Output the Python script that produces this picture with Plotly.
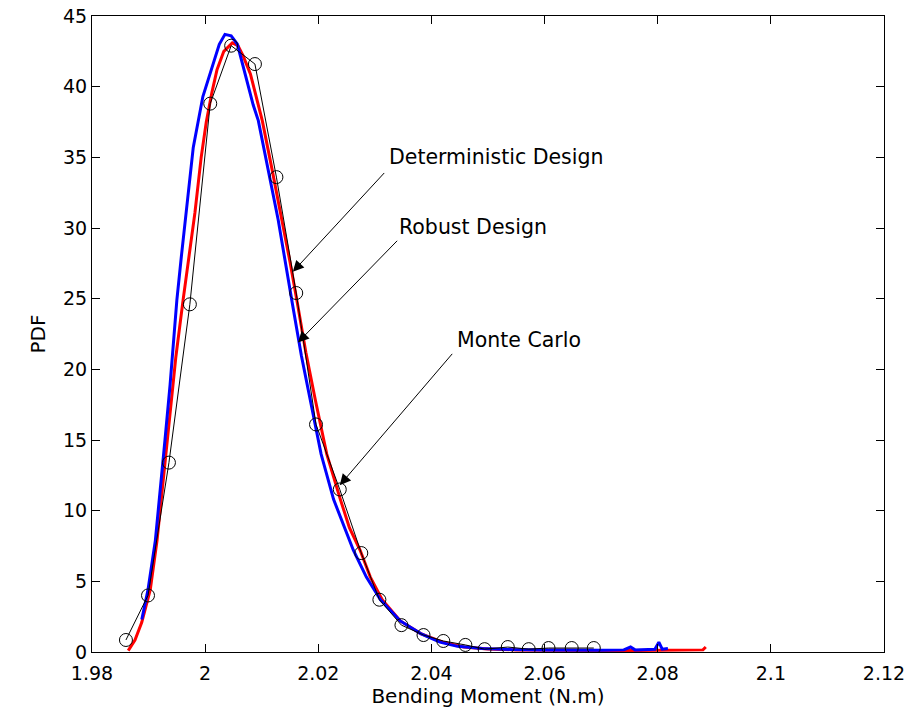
import plotly.graph_objects as go

# Deterministic design PDF (red)
det_x = [1.9864, 1.9876, 1.9888, 1.9903, 1.9915, 1.9926, 1.9936, 1.9948, 1.9961, 1.9972,
         1.9982, 1.9993, 2.0002, 2.0012, 2.0021, 2.0033, 2.0048, 2.0058, 2.0067, 2.0080,
         2.0092, 2.0101, 2.0118, 2.0136, 2.0150, 2.0163, 2.0178, 2.0195, 2.0215, 2.0239,
         2.0255, 2.0274, 2.0292, 2.0313, 2.0345, 2.0381, 2.0420, 2.0457, 2.0500, 2.0550,
         2.0600, 2.0650, 2.0700, 2.0750, 2.0800, 2.0850, 2.0880, 2.0885]
det_y = [0.1, 0.85, 2.1, 4.4, 7.9, 12.2, 16.4, 20.8, 24.9, 28.3,
         31.1, 35.0, 37.5, 39.6, 41.2, 42.5, 43.1, 42.9, 42.2, 40.9,
         39.0, 37.6, 34.2, 30.6, 27.6, 24.7, 21.2, 17.8, 14.0, 10.8,
         8.8, 7.2, 5.3, 3.7, 2.2, 1.3, 0.7, 0.35, 0.22, 0.15,
         0.12, 0.1, 0.1, 0.1, 0.1, 0.1, 0.15, 0.35]

# Robust design PDF (blue)
rob_x = [1.9888, 1.9899, 1.9912, 1.9920, 1.9929, 1.9938, 1.9950, 1.9958, 1.9966, 1.9979,
         1.9996, 2.0014, 2.0025, 2.0035, 2.0046, 2.0057, 2.0071, 2.0085, 2.0094, 2.0112,
         2.0129, 2.0154, 2.0170, 2.0186, 2.0205, 2.0227, 2.0245, 2.0262, 2.0285, 2.0310,
         2.0345, 2.0381, 2.0415, 2.0446, 2.0490, 2.0540, 2.0600, 2.0650, 2.0700, 2.0740,
         2.0752, 2.0760, 2.0795, 2.0802, 2.0808, 2.0818]
rob_y = [2.3, 4.4, 7.9, 11.5, 15.0, 18.9, 24.9, 28.0, 31.1, 35.7,
         39.3, 41.5, 43.0, 43.7, 43.6, 43.0, 40.8, 38.7, 37.6, 34.0,
         30.6, 24.7, 21.0, 17.8, 14.0, 10.8, 8.9, 7.2, 5.3, 3.7,
         2.2, 1.3, 0.7, 0.4, 0.25, 0.18, 0.15, 0.12, 0.12, 0.15,
         0.35, 0.15, 0.2, 0.7, 0.2, 0.25]

# Monte Carlo histogram points (black circles)
mc_x = [1.9860, 1.9899, 1.9936, 1.9973, 2.0009, 2.0046, 2.0088, 2.0126, 2.0161, 2.0196,
        2.0238, 2.0276, 2.0308, 2.0347, 2.0386, 2.0421, 2.0460, 2.0494, 2.0535, 2.0572,
        2.0607, 2.0648, 2.0687]
mc_y = [0.85, 4.0, 13.4, 24.6, 38.8, 42.9, 41.6, 33.6, 25.4, 16.1,
        11.5, 7.0, 3.7, 1.9, 1.2, 0.78, 0.5, 0.2, 0.35, 0.2,
        0.28, 0.28, 0.28]

x_ticks = [1.98, 2.00, 2.02, 2.04, 2.06, 2.08, 2.10, 2.12]
x_tick_labels = ["1.98", "2", "2.02", "2.04", "2.06", "2.08", "2.1", "2.12"]
y_ticks = [0, 5, 10, 15, 20, 25, 30, 35, 40, 45]

# annotation labels: (text, arrow tip x, y, arrow tail x, y, text x, y)
labels = [
    ("Deterministic Design", 2.0155, 26.9, 2.0319, 34.0, 2.0321, 35.0),
    ("Robust Design", 2.0164, 21.9, 2.0342, 29.2, 2.0339, 30.1),
    ("Monte Carlo", 2.0238, 11.8, 2.0439, 21.2, 2.0441, 22.1),
]

FONT = "DejaVu Sans"

fig = go.Figure()
fig.add_trace(go.Scatter(x=det_x, y=det_y, mode="lines",
                         line=dict(color="#ff0000", width=3), name="Deterministic Design"))
fig.add_trace(go.Scatter(x=rob_x, y=rob_y, mode="lines",
                         line=dict(color="#0000ff", width=3), name="Robust Design"))
fig.add_trace(go.Scatter(x=mc_x, y=mc_y, mode="lines+markers",
                         line=dict(color="black", width=1),
                         marker=dict(symbol="circle-open", size=13, color="black",
                                     line=dict(width=1, color="black")),
                         name="Monte Carlo"))

for text, tx, ty, ax, ay, lx, ly in labels:
    fig.add_annotation(x=tx, y=ty, ax=ax, ay=ay, xref="x", yref="y", axref="x", ayref="y",
                       text="", showarrow=True, arrowhead=2, arrowsize=2.2,
                       arrowwidth=1, arrowcolor="black")
    fig.add_annotation(x=lx, y=ly, xref="x", yref="y", text=text, showarrow=False,
                       xanchor="left", yanchor="middle",
                       font=dict(family=FONT, size=20.5, color="black"))

axis_common = dict(showline=True, linecolor="black", linewidth=1, mirror="ticks",
                   ticks="inside", ticklen=8, tickcolor="black", showgrid=False,
                   zeroline=False, tickfont=dict(family=FONT, size=19, color="black"))

fig.update_layout(
    width=920, height=722,
    margin=dict(l=92, r=36, t=16, b=70),
    paper_bgcolor="white", plot_bgcolor="white",
    showlegend=False,
    xaxis=dict(range=[1.98, 2.12], tickvals=x_ticks, ticktext=x_tick_labels,
               ticklabelstandoff=4,
               title=dict(text="Bending Moment (N.m)", standoff=4,
                          font=dict(family=FONT, size=20, color="black")),
               automargin=False, **axis_common),
    yaxis=dict(range=[0, 45], tickvals=y_ticks,
               title=dict(text="PDF", standoff=12,
                          font=dict(family=FONT, size=20, color="black")),
               automargin=False, **axis_common),
)

fig.write_html("out.html")
